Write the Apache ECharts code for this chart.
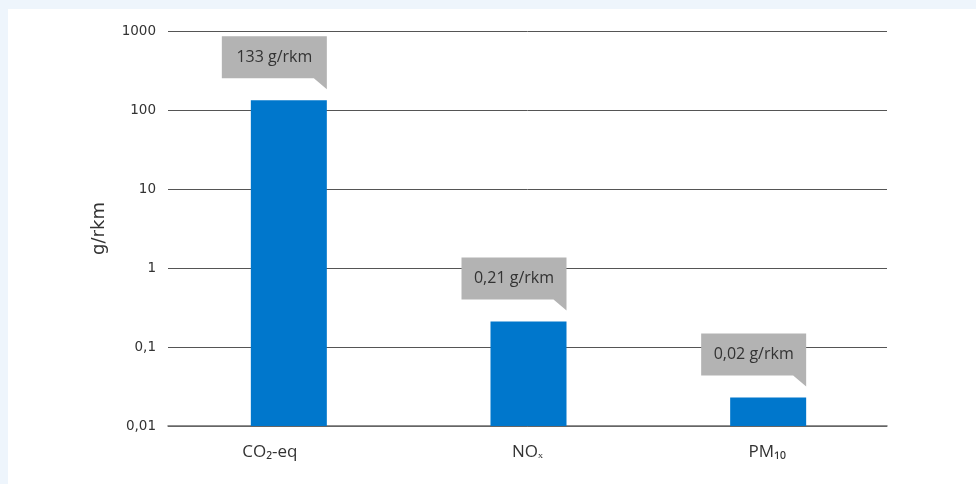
<!DOCTYPE html>
<html>
<head>
<meta charset="utf-8">
<script src="https://cdn.jsdelivr.net/npm/echarts@6/dist/echarts.min.js"></script>
<style>
html,body{margin:0;padding:0;background:#EEF5FC;}
#panel{position:absolute;left:8px;top:9px;width:968px;height:475px;background:#fff;}
#chart{position:absolute;left:0;top:0;width:976px;height:484px;}
</style>
</head>
<body>
<div id="panel"></div>
<div id="chart"></div>
<script>
const categories = ['CO₂-eq', 'NOₓ', 'PM₁₀'];
const values = [133, 0.21, 0.023];
const calloutTexts = ['133 g/rkm', '0,21 g/rkm', '0,02 g/rkm'];
const yAxisName = 'g/rkm';
const yMin = 0.01;
const yMax = 1000;

const chart = echarts.init(document.getElementById('chart'), null, {renderer: 'canvas'});
const FONT = 'Open Sans';
const AXFONT = 'DejaVu Sans';
const BAR_W = 76;

chart.setOption({
  backgroundColor: 'transparent',
  animation: false,
  grid: {left: 168, right: 89, top: 31, bottom: 58},
  xAxis: {
    type: 'category',
    data: categories,
    axisLine: {lineStyle: {color: '#6b6b6b', width: 1.5}},
    axisTick: {show: false},
    axisLabel: {
      color: '#333', fontFamily: FONT, fontSize: 17, margin: 18,
      formatter: (v, i) => i === 0 ? '{first|' + v + '}' : v,
      rich: {first: {color: '#333', fontFamily: FONT, fontSize: 17, padding: [0, 36, 0, 0]}}
    }
  },
  yAxis: {
    type: 'log',
    logBase: 10,
    min: yMin,
    max: yMax,
    name: yAxisName,
    nameLocation: 'middle',
    nameGap: 60,
    nameTextStyle: {color: '#333', fontFamily: AXFONT, fontSize: 18},
    axisLine: {show: false},
    axisTick: {show: false},
    axisLabel: {
      color: '#333', fontFamily: AXFONT, fontSize: 13.5, margin: 12,
      formatter: v => String(+v.toPrecision(6)).replace('.', ',')
    },
    splitLine: {lineStyle: {color: '#555', width: 1}}
  },
  series: [
    {
      type: 'custom',
      data: values.map((v, i) => [i, v]),
      z: 5,
      renderItem: function (params, api) {
        const i = api.value(0);
        const top = api.coord([i, api.value(1)]);
        const base = api.coord([i, yMin]);
        return {
          type: 'rect',
          shape: {x: top[0] - BAR_W / 2 + 1, y: top[1], width: BAR_W, height: base[1] - top[1]},
          style: {fill: '#0077CC'}
        };
      }
    },
    {
      type: 'custom',
      data: values.map((v, i) => [i, v]),
      z: 10,
      renderItem: function (params, api) {
        const i = api.value(0);
        const p = api.coord([i, api.value(1)]);
        const right = p[0] + BAR_W / 2 + 1;
        const left = right - 105;
        const tip = p[1] - 11;
        const bottom = p[1] - 22;
        const top = bottom - 42;
        return {
          type: 'group',
          children: [
            {
              type: 'polygon',
              shape: {points: [[left, top], [right, top], [right, tip], [right - 13, bottom], [left, bottom]]},
              style: {fill: '#B3B3B3'}
            },
            {
              type: 'text',
              style: {
                text: calloutTexts[params.dataIndex],
                x: (left + right) / 2,
                y: (top + bottom) / 2,
                align: 'center',
                verticalAlign: 'middle',
                fill: '#333',
                font: '16px "' + FONT + '"'
              }
            }
          ]
        };
      }
    }
  ]
});
</script>
</body>
</html>
